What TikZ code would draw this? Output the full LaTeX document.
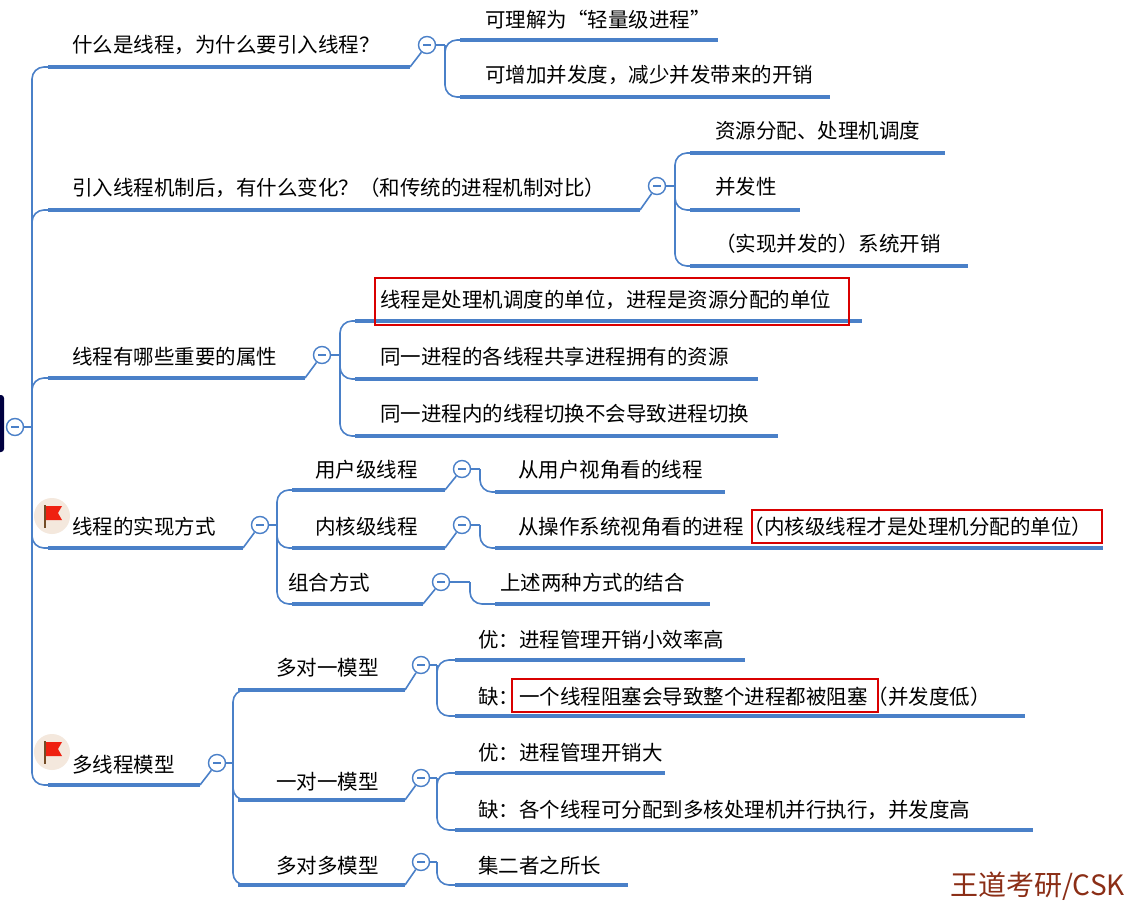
\documentclass[tikz,border=0pt]{standalone}
\usepackage{fontspec}
\newfontfamily\cjk{Noto Sans CJK SC}
\begin{document}
\begin{tikzpicture}[x=1pt,y=-1pt,
  ulb/.style={draw=ublue,line width=3.5pt},
  conn/.style={draw=ublue,line width=1.6pt,rounded corners=12pt},
  tog/.style={circle,draw=ublue,line width=1.4pt,fill=white,minimum size=17pt,inner sep=0pt,
     path picture={\draw[ublue,line width=1.4pt] ([xshift=-4pt]path picture bounding box.center)--([xshift=4pt]path picture bounding box.center);}},
  txt/.style={anchor=west,font=\cjk\fontsize{20.5}{20.5}\selectfont,text=black,inner sep=0pt},
  redbox/.style={draw=red!85!black,line width=2.5pt}]
\definecolor{ublue}{HTML}{4A80C8}
\definecolor{wm}{HTML}{8B2E16}
\useasboundingbox (0,0) rectangle (1125,913);
\fill[white] (0,0) rectangle (1125,913);
\fill[black!75!blue, rounded corners=3pt] (-6,395) rectangle (4,452);
% root toggle
\node[tog] (rt) at (15,427) {};
\draw[ublue,line width=1.6pt] (rt.east) -- (32,427);
\coordinate (trunk) at (32,427);
% level 1 texts
\node[txt] (a) at (72,45) {什么是线程，为什么要引入线程？};
\node[txt] (b) at (72,188) {引入线程机制后，有什么变化？（和传统的进程机制对比）};
\node[txt] (c) at (72,357) {线程有哪些重要的属性};
\node[txt] (d) at (72,527) {线程的实现方式};
\node[txt] (e) at (72,765) {多线程模型};
\foreach \n/\y/\xe in {a/67/410,b/210/640,c/378/305,d/548/243,e/785/200}{
  \coordinate (\n s) at (48,\y); \coordinate (\n e) at (\xe,\y);
  \draw[ulb] (\n s) -- (\n e);
  \draw[conn] (trunk) |- (\n s);
}
% flags
\foreach \n/\y in {fa/516,fb/752}{
  \node[circle,fill=brown!18,minimum size=36pt,inner sep=0pt] (\n) at (52,\y) {};
  \begin{scope}[shift={(52,\y)}]
    \fill[red!75!brown] (-7,-10) -- (10,-10) -- (6,-3) -- (10,4) -- (-7,4) -- cycle;
    \draw[brown!60!black,line width=1.4pt] (-7,-11) -- (-7,12);
  \end{scope}
}
% toggles level 1
\node[tog] (ta) at (427,45) {};
\node[tog] (tb) at (657,186) {};
\node[tog] (tc) at (322,355) {};
\node[tog] (td) at (260,525) {};
\node[tog] (te) at (217,763) {};
\draw[ublue,line width=1.6pt] (ae)--(ta) (be)--(tb) (ce)--(tc) (de)--(td) (ee)--(te);
\node[txt] (d1) at (315,470) {用户级线程};
\node[txt] (d2) at (315,527) {内核级线程};
\node[txt] (d3) at (288,583) {组合方式};
\node[tog] (td1) at (462,469) {};
\node[tog] (td2) at (462,525) {};
\node[tog] (td3) at (441,582) {};
\node[txt] (e1) at (276,668) {多对一模型};
\node[txt] (e2) at (276,782) {一对一模型};
\node[txt] (e3) at (276,866) {多对多模型};
\node[tog] (te1) at (421,665) {};
\node[tog] (te2) at (421,778) {};
\node[tog] (te3) at (421,862) {};
% children and grandchildren
\foreach \n/\y/\xs/\xe/\t/\xb in {a1/40/460/718/ta/445, a2/97/460/830/ta/445,
  b1/153/690/945/tb/675, b2/210/690/800/tb/675, b3/266/690/968/tb/675,
  c1/321/355/862/tc/340, c2/379/355/758/tc/340, c3/436/355/778/tc/340,
  d1/490/292/445/td/277, d2/548/292/445/td/277, d3/604/292/423/td/277,
  e1/690/238/405/te/233, e2/800/238/405/te/233, e3/885/238/405/te/233,
  g1/492/495/725/td1/480, g2/548/495/1103/td2/480, g3/604/495/710/td3/470,
  h1/660/455/745/te1/437, h2/716/455/1025/te1/437, h3/773/455/665/te2/437, h4/830/455/1033/te2/437,
  h5/885/455/628/te3/437}{
  \coordinate (\n s) at (\xs,\y); \coordinate (\n e) at (\xe,\y);
  \coordinate (tmp) at (\xb,0);
  \draw[ublue,line width=1.6pt] (\t.east) -- (\t.east -| tmp);
  \draw[conn] (\t.east -| tmp) |- (\n s);
  \draw[ulb] (\n s) -- (\n e);
}
\draw[ublue,line width=1.6pt] (d1e)--(td1) (d2e)--(td2) (d3e)--(td3);
\draw[ublue,line width=1.6pt] (e1e)--(te1) (e2e)--(te2) (e3e)--(te3);
\node[txt] (a1) at (485,20) {可理解为“轻量级进程”};
\node[txt] (a2) at (485,75) {可增加并发度，减少并发带来的开销};
\node[txt] (b1) at (715,131) {资源分配、处理机调度};
\node[txt] (b2) at (715,187) {并发性};
\node[txt] (b3) at (715,244) {（实现并发的）系统开销};
\node[txt] (c1) at (380,300) {线程是处理机调度的单位，进程是资源分配的单位};
\node[txt] (c2) at (380,357) {同一进程的各线程共享进程拥有的资源};
\node[txt] (c3) at (380,414) {同一进程内的线程切换不会导致进程切换};
\draw[redbox] (375,278) rectangle (849,325);
\node[txt] (g1) at (518,470) {从用户视角看的线程};
\node[txt] (g2) at (518,527) {从操作系统视角看的进程（内核级线程才是处理机分配的单位）};
\draw[redbox] (752,510) rectangle (1102,543);
\node[txt] (g3) at (500,583) {上述两种方式的结合};
\node[txt] (h1) at (478,640) {优：进程管理开销小效率高};
\node[txt] (h2) at (478,697) {缺：一个线程阻塞会导致整个进程都被阻塞（并发度低）};
\draw[redbox] (512,679) rectangle (878,712);
\node[txt] (h3) at (478,753) {优：进程管理开销大};
\node[txt] (h4) at (478,810) {缺：各个线程可分配到多核处理机并行执行，并发度高};
\node[txt] (h5) at (478,866) {集二者之所长};
\node[anchor=east,font=\cjk\fontsize{28}{28}\selectfont,text=wm,inner sep=0pt] (wmk) at (1125,886) {王道考研/CSK};
\end{tikzpicture}
\end{document}
